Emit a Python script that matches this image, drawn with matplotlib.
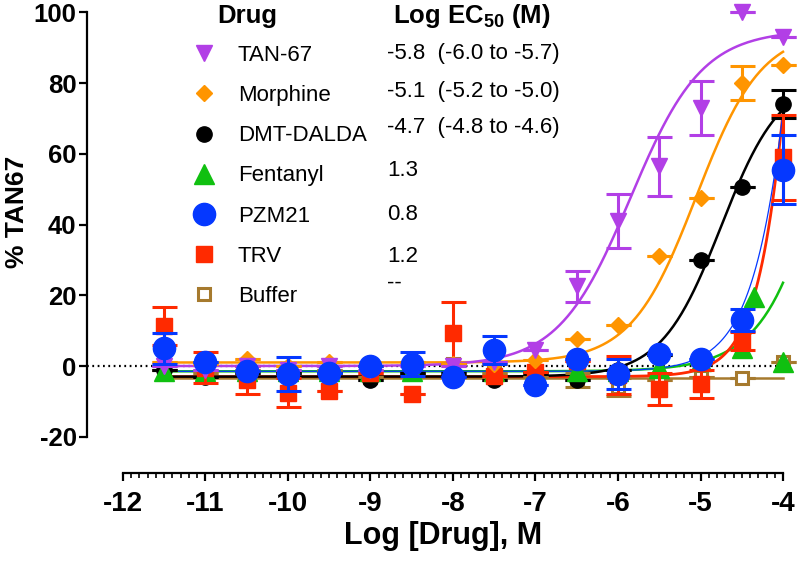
import numpy as np
import matplotlib
matplotlib.use("Agg")
import matplotlib.pyplot as plt
from matplotlib.lines import Line2D
from matplotlib.ticker import FixedLocator

plt.rcParams['font.family'] = ['Liberation Sans', 'DejaVu Sans']
plt.rcParams['mathtext.fontset'] = 'custom'
plt.rcParams['mathtext.rm'] = 'Liberation Sans'
plt.rcParams['mathtext.bf'] = 'Liberation Sans:bold'
plt.rcParams['axes.unicode_minus'] = False

# data
log_x = [-11.5, -11, -10.5, -10, -9.5, -9, -8.5, -8, -7.5, -7, -6.5, -6, -5.5, -5, -4.5, -4]

tan67 = [0, -1, 0, -1, 0, -1, 0, 0, 1, 4.5, 22.5, 41, 56.5, 73, 100, 93]
tan67_err = [0, 0, 0, 0, 0, 0, 0, 0, 0, 0, 4.5, 7.6, 8.4, 7.7, 0, 0]

morphine = [1, 0.5, 2, 0, 1, 0, 1, 0.5, 0.5, 1.7, 7.6, 11.5, 31, 47.5, 80, 85]
morphine_err = [0, 0, 0, 0, 0, 0, 0, 0, 0, 0, 0, 0, 0, 0, 4.7, 0]

dmt = [-1, -3, -2, -2, -2, -4, -2, -2, -4, -2, -4, -1, 3, 30, 50.6, 74]
dmt_err = [0, 0, 0, 0, 0, 0, 0, 0, 0, 0, 0, 0, 0, 0, 0, 4]

fent_x = [-11.5, -11, -10.5, -10, -9.5, -9, -8.5, -8, -7.5, -7, -6.5, -6, -5.5, -5, -4.5, -4.35, -4]
fentanyl = [-1.5, -1.5, -1.5, -1.5, -1.5, -1.5, -1.5, -1.5, -1.5, -1.5, -1.5, -1.5, -0.5, 1.5, 5, 19.5, 1]

pzm21 = [5, 1, -1.5, -2.3, -2, 0, 0.5, -3, 4.5, -5.5, 2, -2.3, 3.5, 2, 13, 55.5]
pzm21_err = [4.3, 0, 0, 4.9, 0, 0, 3.4, 0, 4, 0, 0, 4.3, 0, 0, 3, 9.8]

trv = [11.3, -0.5, -4, -7.5, -7, -2, -8, 9.3, -2.8, -1.7, 1.5, -2.5, -6.5, -5, 7, 59]
trv_err = [5.4, 4.4, 4, 4, 0, 0, 0, 8.7, 0, 0, 0, 5.3, 4.5, 4, 2.5, 12]

buffer = [-1, -2, -1, -2, -1, -3, -2, 0.5, -2, -3, -4, -6, -4, -3, -3.5, 1]
buffer_err = [0, 0, 0, 0, 0, 0, 0, 0, 0, 0, 2, 2.5, 0, 0, 0, 0]

# fitted curves: bottom, top, logEC50, hill
fit_tan67 = [0, 95, -5.85, 1.0]
fit_morphine = [1, 95, -5.05, 1.1]
fit_dmt = [-3, 82, -4.75, 1.2]
fit_fentanyl = [-1.5, 274, -3.0, 1.0]
fit_pzm21 = [-1.5, 668, -3.3, 1.3]
fit_trv = [-3, 544, -3.5, 1.6]
buffer_level = -3.5

names = ['TAN-67', 'Morphine', 'DMT-DALDA', 'Fentanyl', 'PZM21', 'TRV', 'Buffer']
ec50_text = ['-5.8  (-6.0 to -5.7)', '-5.1  (-5.2 to -5.0)', '-4.7  (-4.8 to -4.6)',
             '1.3', '0.8', '1.2', '--']

c_tan = '#B23FE6'
c_mor = '#FF9500'
c_dmt = '#000000'
c_fen = '#10C010'
c_pzm = '#0538FF'
c_trv = '#FF2A00'
c_buf = '#A67A2E'


def four_pl(x, p):
    b, t, ec, h = p
    return b + (t - b) / (1 + 10 ** ((ec - x) * h))


fig = plt.figure(figsize=(8, 5.62), dpi=100)
ax = fig.add_axes([87 / 800, 89 / 562, 713 / 800, 473 / 562])
ax.set_xlim(-12.436, -3.794)
ax.set_ylim(-30.25, 103.5)

xx = np.linspace(-11.5, -4, 300)

# zero line
ax.plot([-12.436, -4], [0, 0], color='black', lw=1.6, ls=(0, (0.8, 1.6)), zorder=1)

# curves
ax.plot([-11.5, -4], [buffer_level, buffer_level], color=c_buf, lw=1.8, zorder=2)
ax.plot(xx, four_pl(xx, fit_fentanyl), color=c_fen, lw=1.8, zorder=2)
ax.plot(xx, four_pl(xx, fit_trv), color=c_trv, lw=2.0, zorder=2)
ax.plot(xx, four_pl(xx, fit_pzm21), color=c_pzm, lw=0.9, zorder=2)
ax.plot(xx, four_pl(xx, fit_dmt), color=c_dmt, lw=1.8, zorder=2)
ax.plot(xx, four_pl(xx, fit_morphine), color=c_mor, lw=1.8, zorder=2)
ax.plot(xx, four_pl(xx, fit_tan67), color=c_tan, lw=1.8, zorder=2)

ekw = dict(ls='none', capsize=9, elinewidth=2.2, capthick=2.2, clip_on=False)

ax.errorbar(log_x, buffer, yerr=buffer_err, marker='s', ms=9, mfc='white', mec=c_buf,
            mew=2.2, ecolor=c_buf, zorder=3, **ekw)
ax.errorbar(log_x, dmt, yerr=dmt_err, marker='o', ms=11, color=c_dmt, zorder=4, **ekw)
ax.plot(fent_x, fentanyl, ls='none', marker='^', ms=15, color=c_fen, zorder=5, clip_on=False)
ax.errorbar(log_x, trv, yerr=trv_err, marker='s', ms=11, color=c_trv, zorder=6, **ekw)
ax.errorbar(log_x, morphine, yerr=morphine_err, marker='D', ms=8, color=c_mor, zorder=7, **ekw)
ax.errorbar(log_x, tan67, yerr=tan67_err, marker='v', ms=11, color=c_tan, zorder=8, **ekw)
ax.errorbar(log_x, pzm21, yerr=pzm21_err, marker='o', ms=16, color=c_pzm, zorder=9, **ekw)

# axes styling
for s in ['top', 'right']:
    ax.spines[s].set_visible(False)
ax.spines['left'].set_bounds(-20, 100)
ax.spines['bottom'].set_bounds(-12, -4)
ax.spines['left'].set_linewidth(1.6)
ax.spines['bottom'].set_linewidth(1.6)
ax.set_yticks(np.arange(-20, 101, 20))
ax.set_xticks(np.arange(-12, -3, 1))
minor = [m for m in np.round(np.arange(-12, -3.95, 0.1), 1) if abs(m - round(m)) > 0.01]
ax.xaxis.set_minor_locator(FixedLocator(minor))
ax.tick_params(axis='both', which='major', width=1.6, length=6)
ax.tick_params(axis='y', which='major', labelsize=18.5, pad=1.5)
ax.tick_params(axis='x', which='major', labelsize=20, pad=7)
ax.tick_params(axis='x', which='minor', width=1.2, length=3.5)
for lab in ax.get_xticklabels() + ax.get_yticklabels():
    lab.set_fontweight('bold')

ax.set_xlabel('Log [Drug], M', fontsize=22, fontweight='bold', labelpad=3)
ax.set_ylabel('% TAN67', fontsize=19, fontweight='bold')
ax.yaxis.set_label_coords(-0.081, 0.552)

# legend table
handles = [
    Line2D([], [], ls='none', marker='v', ms=11, color=c_tan),
    Line2D([], [], ls='none', marker='D', ms=8, color=c_mor),
    Line2D([], [], ls='none', marker='o', ms=11, color=c_dmt),
    Line2D([], [], ls='none', marker='^', ms=15, color=c_fen),
    Line2D([], [], ls='none', marker='o', ms=16, color=c_pzm),
    Line2D([], [], ls='none', marker='s', ms=11, color=c_trv),
    Line2D([], [], ls='none', marker='s', ms=9, mfc='white', mec=c_buf, mew=2.2),
]
leg = ax.legend(handles, names, loc='upper left', bbox_to_anchor=(180 / 800, 1 - 34 / 562),
                bbox_transform=fig.transFigure, frameon=False, fontsize=16,
                handlelength=1.2, handletextpad=0.9, labelspacing=0.86, borderpad=0)

fig.text(247 / 800, 1 - 16 / 562, 'Drug', ha='center', va='center', fontsize=18.5, fontweight='bold')
fig.text(393 / 800, 1 - 16 / 562, r'Log EC$_{\mathbf{50}}$ (M)', ha='left', va='center',
         fontsize=18.5, fontweight='bold')
row_y = [54, 91, 128, 170, 215, 257, 283]
for txt, y in zip(ec50_text, row_y):
    fig.text(387 / 800, 1 - y / 562, txt, ha='left', va='center', fontsize=16)

fig.savefig('out.png', dpi=100)
